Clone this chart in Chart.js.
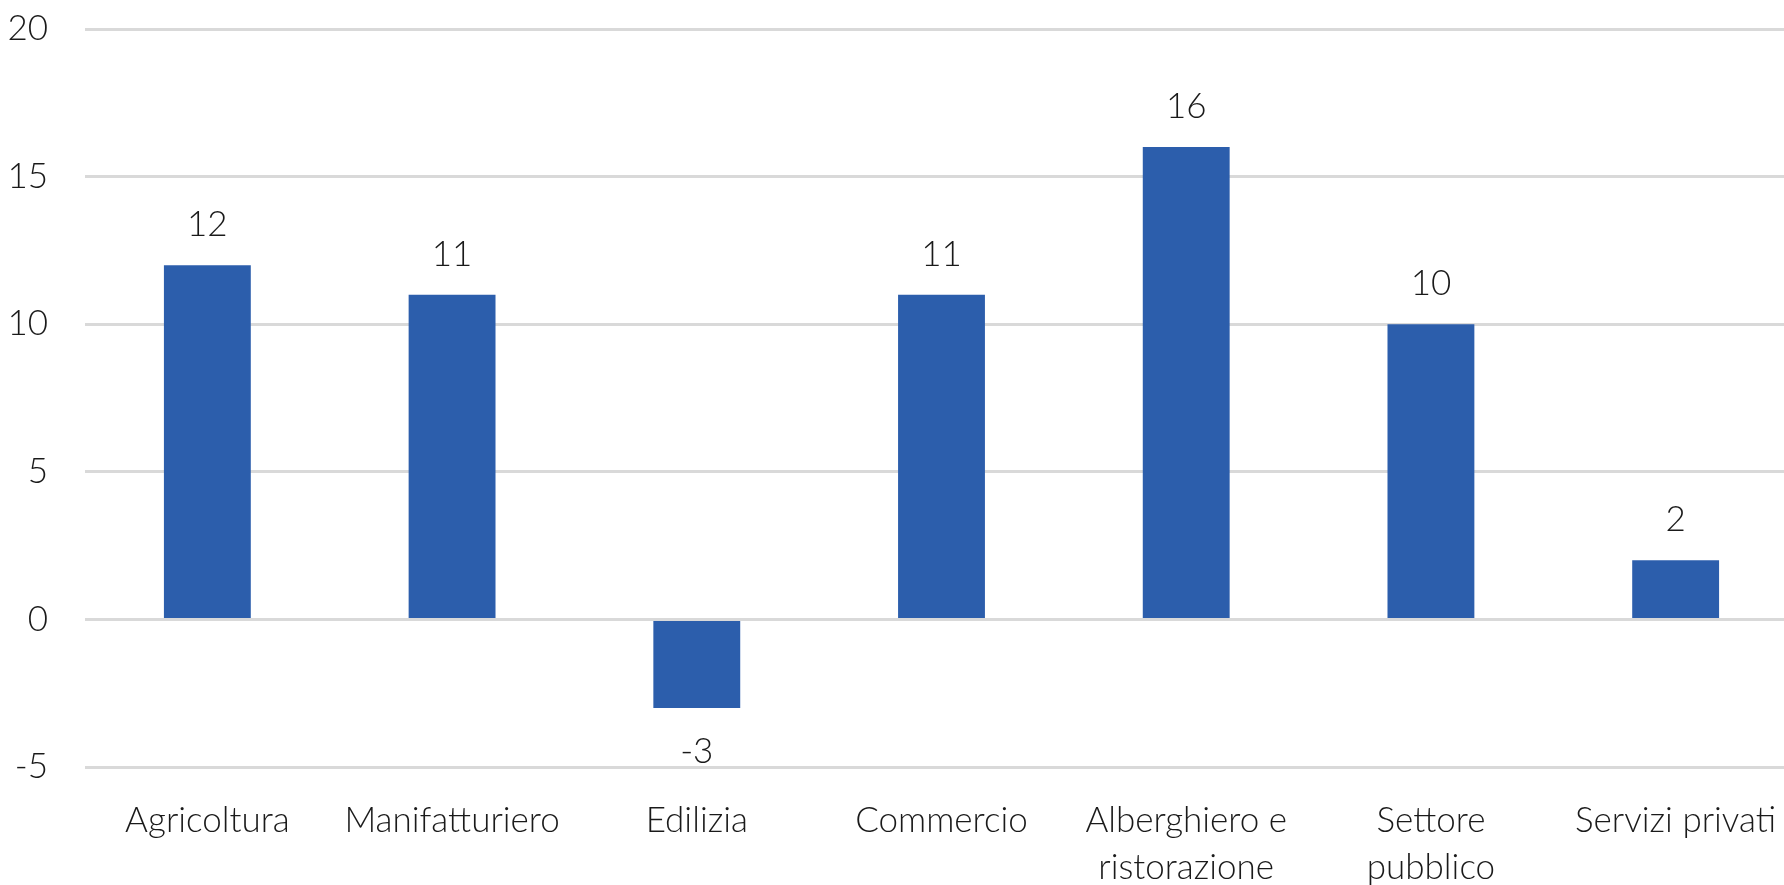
<!DOCTYPE html>
<html>
<head>
<meta charset="utf-8">
<script src="https://cdn.jsdelivr.net/npm/chart.js@4/dist/chart.umd.min.js"></script>
<style>
  html, body { margin: 0; padding: 0; background: #fff; overflow: hidden; }
  #wrap { width: 1798px; height: 885px; position: relative; }
</style>
</head>
<body>
<div id="wrap"><canvas id="chart"></canvas></div>
<script>
const categories = [
    'Agricoltura',
    'Manifatturiero',
    'Edilizia',
    'Commercio',
    ['Alberghiero e', 'ristorazione'],
    ['Settore', 'pubblico'],
    'Servizi privati',
];
const values = [12, 11, -3, 11, 16, 10, 2];
const yTicks = [-5, 0, 5, 10, 15, 20];

const FONT = 'Lato';
const TEXT = '#1a1a1a';

// value labels above (or below, if negative) each bar
const barLabels = {
    id: 'barLabels',
    afterDatasetsDraw(chart) {
        const ctx = chart.ctx;
        const meta = chart.getDatasetMeta(0);
        ctx.save();
        ctx.font = '300 35px ' + FONT;
        ctx.fillStyle = TEXT;
        ctx.textAlign = 'center';
        ctx.textBaseline = 'alphabetic';
        meta.data.forEach(function (bar, i) {
            const v = values[i];
            const y = v >= 0 ? bar.y - 29 : bar.y + 55;
            ctx.fillText(String(v), bar.x, y);
        });
        ctx.restore();
    },
};

document.addEventListener('DOMContentLoaded', function () {
    const ctx = document.getElementById('chart').getContext('2d');

    new Chart(ctx, {
        type: 'bar',
        data: {
            labels: categories,
            datasets: [
                {
                    data: values,
                    backgroundColor: '#2C5EAC',
                    barPercentage: 0.355,
                    categoryPercentage: 1,
                },
            ],
        },
        options: {
            responsive: true,
            maintainAspectRatio: false,
            animation: false,
            layout: { padding: { top: 29, right: 0, bottom: 0, left: 0 } },
            plugins: {
                legend: { display: false },
                tooltip: { enabled: false },
            },
            scales: {
                x: {
                    grid: { display: false, drawTicks: false },
                    border: { display: false },
                    ticks: {
                        color: TEXT,
                        font: { family: FONT, size: 35, weight: 300, lineHeight: 1.34 },
                        padding: 30,
                        maxRotation: 0,
                        autoSkip: false,
                    },
                    afterFit: function (scale) {
                        scale.height = 118;
                        scale.paddingLeft = 0;
                        scale.paddingRight = 0;
                    },
                },
                y: {
                    min: -5,
                    max: 20,
                    afterBuildTicks: function (scale) {
                        scale.ticks = yTicks.map(function (v) { return { value: v }; });
                    },
                    grid: { color: '#d9d9d9', lineWidth: 3, drawTicks: false },
                    border: { display: false },
                    ticks: {
                        color: TEXT,
                        font: { family: FONT, size: 35, weight: 300, lineHeight: 1.2 },
                        padding: 37,
                    },
                    afterFit: function (scale) {
                        scale.width = 85;
                        scale.paddingTop = 0;
                        scale.paddingBottom = 0;
                    },
                },
            },
        },
        plugins: [barLabels],
    });
});
</script>
</body>
</html>
